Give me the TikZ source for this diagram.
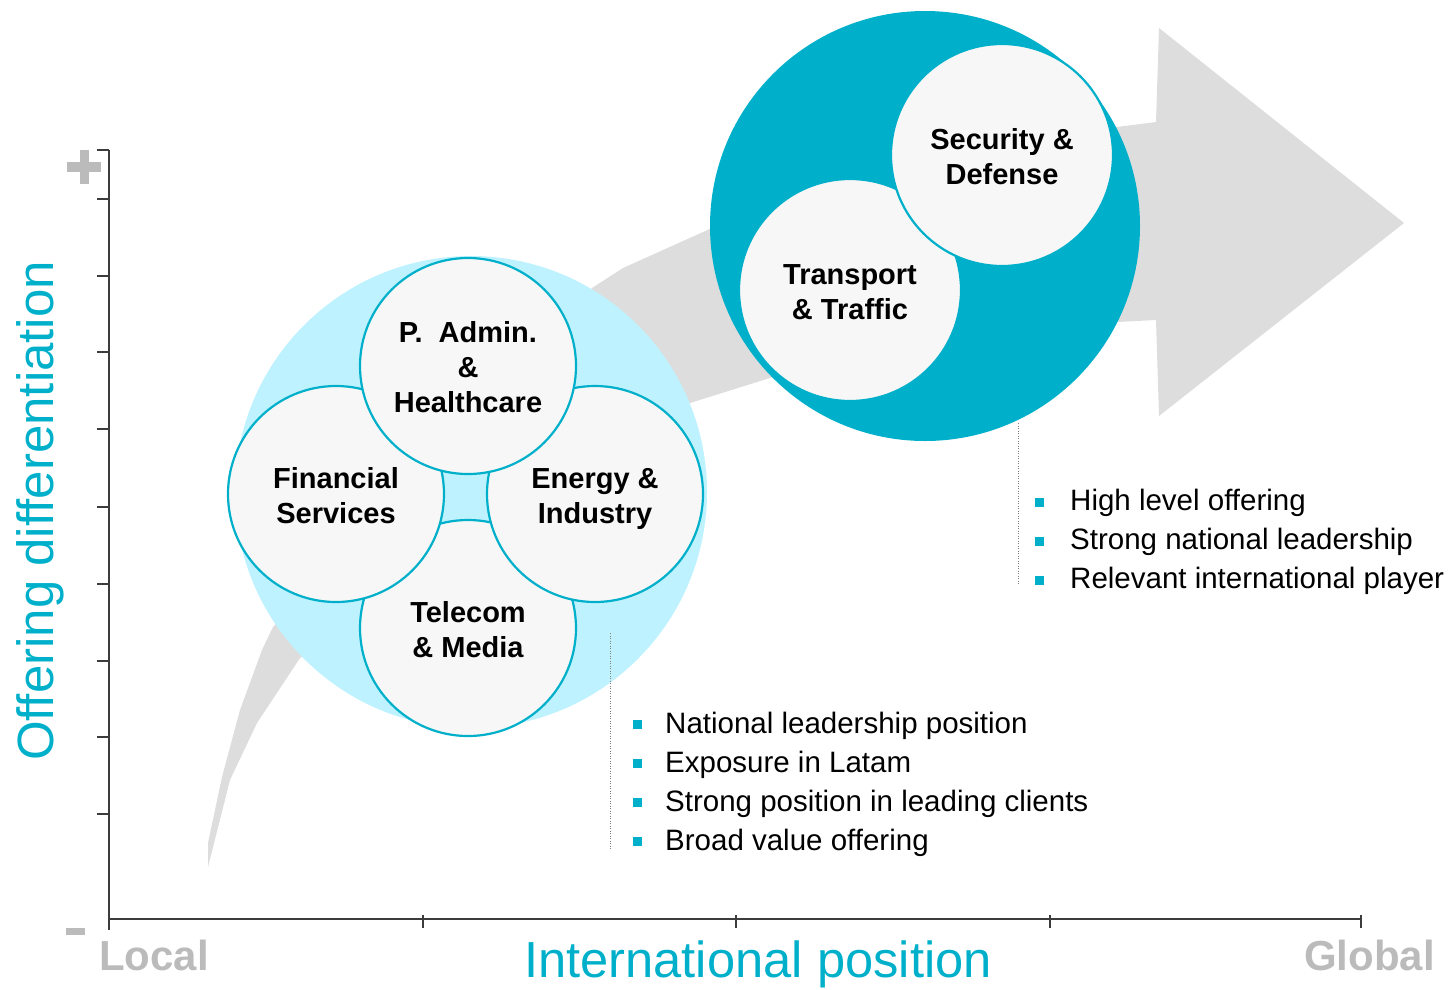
\documentclass[tikz,border=0pt]{standalone}
\usepackage{fontspec}
\setmainfont{Liberation Sans}
\definecolor{brandteal}{RGB}{0,176,202}
\definecolor{paleblue}{RGB}{191,242,255}
\definecolor{cardfill}{RGB}{247,247,247}
\definecolor{bandgray}{RGB}{221,221,221}
\definecolor{labelgray}{RGB}{187,187,187}
\definecolor{axisgray}{RGB}{60,60,60}
% fixed top and bottom struts so every circle label sits at the same height
\newcommand\lbltop{\rule{0pt}{30pt}}
\newcommand\lblbot{\rule[-7pt]{0pt}{7pt}}
\begin{document}
\begin{tikzpicture}[x=1pt,y=-1pt,
  sector/.style={circle, draw=brandteal, line width=2.2pt, fill=cardfill,
    minimum size=216pt, inner sep=0pt, align=center,
    font=\bfseries\fontsize{29}{35}\selectfont},
  bigsector/.style={sector, minimum size=222pt},
  cluster/.style={circle, draw=none, inner sep=0pt},
  bulletsq/.style={rectangle, fill=brandteal, minimum size=9pt, inner sep=0pt},
  bullettext/.style={anchor=base west, inner sep=0pt, font=\fontsize{29.5}{35}\selectfont},
  axisline/.style={draw=axisgray, line width=2.2pt},
  endlabel/.style={inner sep=0pt, text=labelgray, font=\bfseries\fontsize{42}{48}\selectfont},
  axistitle/.style={inner sep=0pt, text=brandteal},
  leader/.style={draw=gray, line width=1pt, dash pattern=on 1pt off 1.5pt}]
\useasboundingbox (0,0) rectangle (1448,989);

% growth band with arrowhead
\fill[bandgray] (208,867) -- (208,843) -- (222,777) -- (240,710) -- (262,650)
  -- (273,627) -- (592,288) -- (623,268) -- (712,228) -- (1117,127) -- (1156,122)
  -- (1159,28) -- (1404,223) -- (1159,416) -- (1156,320) -- (1117,322)
  -- (773,377) -- (690,403) -- (300,658) -- (257,723) -- (230,780) -- cycle;

% axes
\draw[axisline] (109,150) -- (109,930);
\draw[axisline] (109,919) -- (1361,919);
\foreach \ty in {150,199,276,352,429,507,584,661,737,814}
  \draw[axisline] (97,\ty) -- (109,\ty);
\foreach \tx in {423,736,1050,1361}
  \draw[axisline] (\tx,915) -- (\tx,928);

% plus and minus marks
\fill[labelgray] (67,162) rectangle (101,172);
\fill[labelgray] (80,150) rectangle (89,184);
\fill[labelgray] (66,928) rectangle (85,935);

% axis labels
\node[endlabel, anchor=base west] (local) at (99,970) {Local};
\node[endlabel, anchor=base east] (global) at (1435,970) {Global};
\node[axistitle, anchor=base, font=\fontsize{50.7}{56}\selectfont] (xtitle) at (758,977) {International position};
\node[axistitle, anchor=base, rotate=90, font=\fontsize{51}{56}\selectfont] (ytitle) at (53,511) {Offering differentiation};

% local cluster
\node[cluster, fill=paleblue, minimum size=472pt] (localc) at (471,492) {};
\node[sector] (telecom) at (468,628) {\lbltop Telecom\\\& Media\lblbot};
\node[sector] (finance) at (336,494) {\lbltop Financial\\Services\lblbot};
\node[sector] (energy) at (595,494) {\lbltop Energy \&\\Industry\lblbot};
\node[sector] (padmin) at (468,366) {\lbltop P.~~Admin.\\\&\\Healthcare\lblbot};

% global cluster
\node[cluster, fill=brandteal, minimum size=430pt] (globalc) at (925,226) {};
\node[bigsector] (transport) at (850,290) {\lbltop Transport\\\& Traffic\lblbot};
\node[bigsector] (security) at (1002,155) {\lbltop Security \&\\Defense\lblbot};

% leader lines
\coordinate (l1a) at (610,633);
\coordinate (l1b) at (610,850);
\coordinate (l2a) at (1018,423);
\coordinate (l2b) at (1018,585);
\draw[leader] (l1a) -- (l1b);
\draw[leader] (l2a) -- (l2b);

% bullet lists
\foreach \txt [count=\i] in {National leadership position, Exposure in Latam,
    Strong position in leading clients, Broad value offering} {
  \node[bulletsq] (lb\i) at (637.5,{733+39*(\i-1)-8.5}) {};
  \node[bullettext] (lt\i) at (665,{733+39*(\i-1)}) {\txt};
}
\foreach \txt [count=\i] in {High level offering, Strong national leadership,
    Relevant international player} {
  \node[bulletsq] (gb\i) at (1039,{510+39*(\i-1)-7.5}) {};
  \node[bullettext] (gt\i) at (1070,{510+39*(\i-1)}) {\txt};
}
\end{tikzpicture}
\end{document}
